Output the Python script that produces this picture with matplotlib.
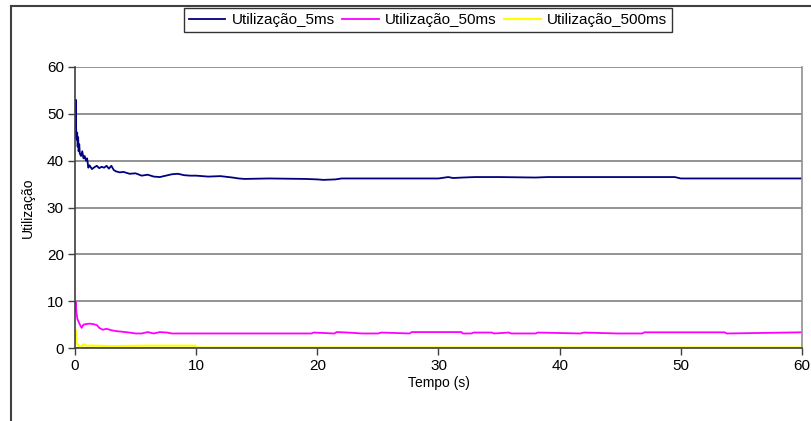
import matplotlib.pyplot as plt
from matplotlib.lines import Line2D

plt.rcParams['font.family'] = ['Liberation Sans', 'DejaVu Sans']

# Utilizacao_5ms
t_5 = [0, 0.06, 0.1, 0.14, 0.18, 0.22, 0.26, 0.3, 0.35, 0.4, 0.5, 0.6, 0.7, 0.8, 0.9, 1.0,
       1.1, 1.2, 1.4, 1.6, 1.8, 2.0, 2.2, 2.4, 2.6, 2.8, 3.0, 3.2, 3.4, 3.7, 4.0, 4.5,
       5.0, 5.5, 6.0, 6.5, 7.0, 7.5, 8.0, 8.5, 9.0, 9.5, 10.0, 11.0, 12.0, 13.0, 13.5,
       14.0, 16.0, 19.0, 20.0, 20.5, 21.5, 22.0, 25.0, 30.0, 30.8, 31.2, 32.0, 33.0,
       35.0, 38.0, 39.0, 40.0, 45.0, 49.5, 50.0, 55.0, 60.0]
u_5 = [45.0, 53.0, 46.0, 44.5, 46.0, 43.0, 45.0, 42.0, 43.5, 41.5, 41.0, 42.0, 40.5, 41.0,
       40.0, 40.5, 38.5, 39.0, 38.2, 38.6, 38.9, 38.4, 38.7, 38.5, 38.9, 38.3, 38.9, 38.0,
       37.7, 37.5, 37.6, 37.2, 37.3, 36.8, 37.0, 36.6, 36.5, 36.8, 37.1, 37.2, 36.9, 36.8,
       36.8, 36.6, 36.7, 36.4, 36.2, 36.1, 36.2, 36.1, 36.0, 35.9, 36.0, 36.2, 36.2, 36.2,
       36.5, 36.3, 36.4, 36.5, 36.5, 36.4, 36.5, 36.5, 36.5, 36.5, 36.2, 36.2, 36.2]

# Utilizacao_50ms
t_50 = [0, 0.06, 0.12, 0.2, 0.3, 0.4, 0.55, 0.7, 0.9, 1.2, 1.5, 1.8, 2.0, 2.3, 2.6, 3.0,
        3.4, 3.8, 4.5, 5.0, 5.5, 6.0, 6.5, 7.0, 7.6, 8.0, 8.3, 9.0, 12.0, 16.0, 19.5,
        19.7, 21.4, 21.6, 22.5, 23.7, 25.0, 25.3, 27.6, 27.8, 31.9, 32.0, 32.7, 32.9,
        34.4, 34.6, 35.8, 36.0, 38.0, 38.2, 41.7, 42.0, 44.8, 46.8, 47.0, 53.6, 53.8, 60.0]
u_50 = [8.0, 9.8, 7.5, 6.2, 5.6, 5.0, 4.3, 5.0, 5.1, 5.2, 5.1, 4.9, 4.3, 3.9, 4.1, 3.8,
        3.6, 3.5, 3.3, 3.1, 3.1, 3.4, 3.1, 3.4, 3.3, 3.1, 3.1, 3.1, 3.1, 3.1, 3.1, 3.3,
        3.1, 3.4, 3.3, 3.1, 3.1, 3.3, 3.1, 3.4, 3.4, 3.1, 3.1, 3.3, 3.3, 3.1, 3.3, 3.1,
        3.1, 3.3, 3.1, 3.3, 3.1, 3.1, 3.35, 3.35, 3.1, 3.35]

# Utilizacao_500ms
t_500 = [0, 0.06, 0.12, 0.2, 0.35, 0.5, 0.7, 0.9, 1.5, 3.0, 6.0, 9.9, 10.0, 20.0, 40.0, 60.0]
u_500 = [2.0, 3.8, 1.2, 0.8, 0.4, 0.2, 0.8, 0.5, 0.5, 0.4, 0.5, 0.5, 0.1, 0.1, 0.1, 0.1]

fig = plt.figure(figsize=(8.12, 4.21), dpi=100)
ax = fig.add_axes([75/812, 1 - 348/421, (802 - 75)/812, (348 - 67)/421])

ax.plot(t_5, u_5, color='#000080', lw=1.3, label='Utilização_5ms')
ax.plot(t_50, u_50, color='#FF00FF', lw=1.3, label='Utilização_50ms')
ax.plot(t_500, u_500, color='#FFFF00', lw=1.6, label='Utilização_500ms')

ax.set_xlim(0, 60)
ax.set_ylim(0, 60)
ax.set_xticks(range(0, 61, 10))
ax.set_yticks(range(0, 61, 10))
ax.grid(axis='y', color='#808080', lw=1.2)
ax.set_axisbelow(True)
ax.tick_params(labelsize=11, length=5, width=1, color='#404040', pad=3)

for s in ['left', 'bottom']:
    ax.spines[s].set_color('#404040')
    ax.spines[s].set_linewidth(1.2)
ax.spines['top'].set_visible(False)
ax.spines['right'].set_color('#909090')
ax.spines['right'].set_linewidth(1.2)

ax.set_xlabel('Tempo (s)', fontsize=10, labelpad=2)
ax.set_ylabel('Utilização', fontsize=10, labelpad=9)

leg = ax.legend(loc='center', bbox_to_anchor=(428/812, 1 - 20/421),
                bbox_transform=fig.transFigure, ncol=3, fontsize=11,
                frameon=True, fancybox=False, borderpad=0.3, handlelength=2.4,
                columnspacing=0.5, handletextpad=0.4)
leg.get_frame().set_edgecolor('black')
leg.get_frame().set_linewidth(1)

# outer chart border (runs off the right and bottom edges)
fig.add_artist(Line2D([11/812, 11/812], [0, 1 - 6/421], transform=fig.transFigure,
                      color='#404040', lw=1.5))
fig.add_artist(Line2D([11/812, 1], [1 - 6/421, 1 - 6/421], transform=fig.transFigure,
                      color='#404040', lw=1.5, zorder=10))

fig.savefig('out.png', dpi=100)
